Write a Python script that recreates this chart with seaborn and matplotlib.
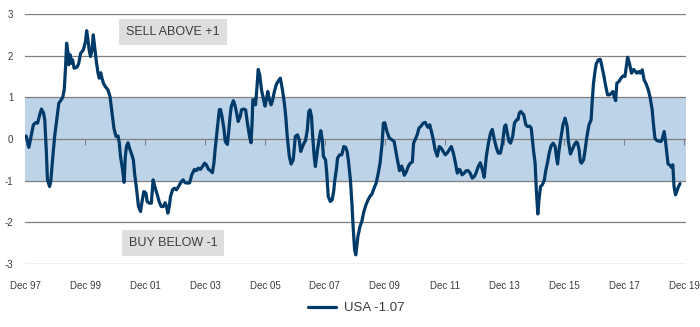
import matplotlib
matplotlib.use("Agg")
import matplotlib.pyplot as plt
import seaborn as sns
import pandas as pd

# ---- data (decimal year, standardised value) ----
years = [
    1997.94, 1998.03, 1998.09, 1998.18, 1998.25, 1998.32, 1998.38, 1998.45, 1998.52, 1998.56,
    1998.61, 1998.65, 1998.72, 1998.76, 1998.83, 1998.89, 1998.96, 1999.03, 1999.09, 1999.16,
    1999.21, 1999.25, 1999.29, 1999.34, 1999.36, 1999.41, 1999.45, 1999.49, 1999.54, 1999.63,
    1999.69, 1999.76, 1999.85, 1999.92, 1999.96, 2000.01, 2000.05, 2000.09, 2000.14, 2000.18,
    2000.25, 2000.29, 2000.34, 2000.38, 2000.43, 2000.47, 2000.52, 2000.58, 2000.67, 2000.74,
    2000.78, 2000.83, 2000.87, 2000.94, 2001.01, 2001.05, 2001.09, 2001.16, 2001.21, 2001.25,
    2001.29, 2001.34, 2001.41, 2001.47, 2001.52, 2001.56, 2001.63, 2001.69, 2001.76, 2001.81,
    2001.87, 2001.94, 2001.98, 2002.05, 2002.12, 2002.18, 2002.25, 2002.32, 2002.38, 2002.45,
    2002.52, 2002.58, 2002.63, 2002.67, 2002.72, 2002.76, 2002.83, 2002.89, 2002.96, 2003.03,
    2003.09, 2003.18, 2003.25, 2003.34,
    2003.40, 2003.47, 2003.56, 2003.62, 2003.69, 2003.76, 2003.83, 2003.90, 2003.96, 2004.03,
    2004.10, 2004.16, 2004.21, 2004.25, 2004.32, 2004.39, 2004.43, 2004.48, 2004.55, 2004.59,
    2004.66, 2004.70, 2004.75, 2004.79, 2004.86, 2004.91, 2004.97, 2005.02, 2005.09, 2005.13,
    2005.20, 2005.27, 2005.33, 2005.40, 2005.45, 2005.49, 2005.51, 2005.56, 2005.60, 2005.65,
    2005.69, 2005.74, 2005.80, 2005.87, 2005.92, 2005.96, 2006.01, 2006.05, 2006.12, 2006.16,
    2006.23, 2006.30, 2006.37, 2006.43, 2006.50, 2006.57, 2006.61, 2006.66, 2006.73, 2006.79,
    2006.86, 2006.93, 2007.00, 2007.06, 2007.11, 2007.15, 2007.22, 2007.27, 2007.33, 2007.38,
    2007.42, 2007.47, 2007.51, 2007.56, 2007.60, 2007.67, 2007.74, 2007.78, 2007.83, 2007.87,
    2007.94, 2007.98, 2008.03, 2008.10, 2008.16, 2008.21, 2008.25, 2008.30, 2008.34, 2008.41,
    2008.48, 2008.55, 2008.61, 2008.66, 2008.70, 2008.77, 2008.82, 2008.86, 2008.91, 2008.95,
    2009.02, 2009.09, 2009.15, 2009.22, 2009.29, 2009.36, 2009.42, 2009.49, 2009.56, 2009.63,
    2009.69, 2009.76, 2009.83, 2009.87, 2009.92, 2009.98, 2010.07, 2010.14, 2010.23, 2010.28,
    2010.34, 2010.41, 2010.48, 2010.52, 2010.57, 2010.64, 2010.70, 2010.77, 2010.84, 2010.88,
    2010.93, 2011.00, 2011.06, 2011.13, 2011.20, 2011.27, 2011.31, 2011.36, 2011.42, 2011.49,
    2011.54, 2011.60, 2011.67, 2011.74, 2011.80, 2011.87, 2011.94, 2012.01, 2012.07, 2012.14,
    2012.21, 2012.28, 2012.34, 2012.39, 2012.43, 2012.50, 2012.57, 2012.64, 2012.70, 2012.77,
    2012.84, 2012.91, 2012.97, 2013.04, 2013.11, 2013.18, 2013.24, 2013.31, 2013.38, 2013.45,
    2013.51, 2013.58, 2013.65, 2013.71, 2013.78, 2013.85, 2013.92, 2013.96, 2014.01, 2014.07,
    2014.12, 2014.19, 2014.25, 2014.32, 2014.37, 2014.41, 2014.46,
    2014.56, 2014.63, 2014.69, 2014.76, 2014.81, 2014.85, 2014.89, 2014.94, 2014.98, 2015.03,
    2015.07, 2015.12, 2015.18, 2015.25, 2015.29, 2015.36, 2015.41, 2015.47, 2015.54, 2015.61,
    2015.65, 2015.69, 2015.74, 2015.81, 2015.87, 2015.94, 2016.01, 2016.05, 2016.12, 2016.18,
    2016.25, 2016.32, 2016.36, 2016.41, 2016.45, 2016.49, 2016.56, 2016.61, 2016.67, 2016.74,
    2016.81, 2016.85, 2016.89, 2016.94, 2016.98, 2017.05, 2017.12, 2017.16, 2017.23, 2017.29,
    2017.36, 2017.43, 2017.49, 2017.54, 2017.58, 2017.63, 2017.67, 2017.74, 2017.81, 2017.87,
    2017.94, 2017.98, 2018.03, 2018.09, 2018.16, 2018.23, 2018.29, 2018.34, 2018.41, 2018.45,
    2018.52, 2018.58, 2018.65, 2018.72, 2018.78, 2018.85, 2018.89, 2018.94, 2019.01, 2019.07,
    2019.14, 2019.18, 2019.25, 2019.29, 2019.34, 2019.38, 2019.45, 2019.49, 2019.54, 2019.58,
    2019.63, 2019.67, 2019.72, 2019.78,
]
usa_values = [
    0.07, -0.20, 0.02, 0.34, 0.39, 0.38, 0.55, 0.72, 0.62, 0.46,
    -0.26, -0.98, -1.14, -1.02, -0.42, 0.06, 0.46, 0.86, 0.92, 1.00,
    1.18, 1.66, 2.30, 2.06, 1.78, 2.02, 1.82, 1.90, 1.70, 1.72,
    1.80, 2.06, 2.14, 2.34, 2.60, 2.34, 2.10, 1.98, 2.14, 2.50,
    2.06, 1.82, 1.58, 1.46, 1.59, 1.46, 1.34, 1.26, 1.18, 1.02,
    0.78, 0.46, 0.26, 0.06, 0.07, -0.10, -0.42, -0.74, -1.04, -0.42,
    -0.18, -0.09, -0.26, -0.38, -0.50, -0.82, -1.22, -1.62, -1.74, -1.50,
    -1.26, -1.30, -1.50, -1.54, -1.54, -0.98, -1.18, -1.34, -1.50, -1.62,
    -1.62, -1.53, -1.62, -1.78, -1.62, -1.38, -1.22, -1.18, -1.22, -1.14,
    -1.06, -0.98, -1.05, -1.06,
    -1.05, -0.86, -0.73, -0.76, -0.70, -0.73, -0.66, -0.58, -0.62, -0.73,
    -0.76, -0.81, -0.58, -0.26, 0.22, 0.70, 0.71, 0.54, 0.22, -0.06,
    -0.13, 0.14, 0.54, 0.78, 0.92, 0.82, 0.62, 0.42, 0.54, 0.70,
    0.72, 0.70, 0.38, 0.06, -0.09, 0.46, 0.94, 0.94, 0.82, 1.26,
    1.67, 1.54, 1.18, 0.94, 0.79, 0.94, 1.14, 0.98, 0.82, 0.90,
    1.14, 1.32, 1.40, 1.46, 1.18, 0.82, 0.54, 0.06, -0.42, -0.60,
    -0.50, 0.06, 0.10, -0.02, -0.30, -0.22, -0.10, -0.04, 0.22, 0.66,
    0.70, 0.54, 0.06, -0.42, -0.66, -0.26, 0.06, 0.20, -0.02, -0.42,
    -0.50, -0.82, -1.38, -1.50, -1.46, -1.26, -0.98, -0.74, -0.46, -0.38,
    -0.38, -0.18, -0.20, -0.30, -0.50, -0.98, -1.54, -2.10, -2.66, -2.78,
    -2.34, -2.10, -1.98, -1.74, -1.58, -1.46, -1.38, -1.32, -1.18, -1.06,
    -0.86, -0.58, -0.10, 0.38, 0.39, 0.20, 0.02, -0.01, -0.06, -0.26,
    -0.50, -0.76, -0.65, -0.73, -0.87, -0.78, -0.66, -0.58, -0.55, -0.10,
    -0.02, 0.10, 0.26, 0.31, 0.38, 0.40, 0.34, 0.28, 0.34, 0.14,
    -0.02, -0.26, -0.41, -0.18, -0.22, -0.30, -0.38, -0.33, -0.26, -0.18,
    -0.34, -0.58, -0.82, -0.73, -0.74, -0.86, -0.82, -0.76, -0.76, -0.82,
    -0.94, -0.90, -0.81, -0.66, -0.57, -0.74, -0.92, -0.42, -0.10, 0.14,
    0.23, -0.02, -0.22, -0.34, -0.34, -0.10, 0.30, 0.34, 0.14, -0.06,
    -0.10, 0.06, 0.38, 0.46, 0.47, 0.62, 0.66,
    0.58, 0.34, 0.30, 0.31, 0.26, -0.02, -0.30, -0.58, -1.22, -1.80,
    -1.46, -1.14, -1.10, -0.98, -0.78, -0.54, -0.34, -0.17, -0.10, -0.18,
    -0.42, -0.60, -0.26, 0.06, 0.34, 0.50, 0.30, -0.06, -0.36, -0.26,
    -0.14, -0.07, -0.10, -0.26, -0.54, -0.58, -0.50, -0.26, 0.06, 0.34,
    0.46, 0.94, 1.34, 1.62, 1.80, 1.90, 1.91, 1.78, 1.54, 1.30,
    1.06, 1.06, 1.10, 1.14, 1.02, 0.92, 1.34, 1.38, 1.46, 1.51,
    1.50, 1.70, 1.96, 1.82, 1.58, 1.67, 1.62, 1.58, 1.62, 1.58,
    1.66, 1.42, 1.32, 1.18, 1.00, 0.70, 0.38, 0.02, -0.04, -0.05,
    -0.06, -0.02, 0.18, -0.02, -0.34, -0.60, -0.63, -0.68, -0.62, -1.14,
    -1.34, -1.26, -1.16, -1.07,
]
series_label = "USA -1.07"
tick_years = [1997.917, 1999.917, 2001.917, 2003.917, 2005.917, 2007.917,
              2009.917, 2011.917, 2013.917, 2015.917, 2017.917, 2019.917]
tick_labels = ["Dec 97", "Dec 99", "Dec 01", "Dec 03", "Dec 05", "Dec 07",
               "Dec 09", "Dec 11", "Dec 13", "Dec 15", "Dec 17", "Dec 19"]
y_ticks = [-3, -2, -1, 0, 1, 2, 3]
sell_text = "SELL ABOVE +1"
buy_text = "BUY BELOW -1"

# ---- style ----
sns.set_theme(style="white")
plt.rcParams["font.family"] = ["Liberation Sans", "DejaVu Sans"]

LINE = "#003a68"
GRID = "#7f7f7f"
BAND = "#bcd3e8"
TEXT = "#3c3c3c"
BOX = "#dfdedd"

df = pd.DataFrame({"year": years, "value": usa_values})

fig = plt.figure(figsize=(7.0, 3.27), dpi=100)
ax = fig.add_axes([25 / 700, 1 - 264 / 327, 661 / 700, 250 / 327])

ax.axhspan(-1, 1, color=BAND, zorder=0, lw=0)
sns.lineplot(data=df, x="year", y="value", ax=ax, color=LINE, lw=2.3,
             label=series_label, zorder=3, legend=False)

ax.set_ylim(-3, 3)
ax.set_xlim(1997.90, 2019.98)
ax.set_yticks(y_ticks)
ax.set_yticklabels([str(v) for v in y_ticks])
ax.yaxis.grid(True, color=GRID, lw=0.9)
ax.xaxis.grid(False)
ax.set_axisbelow(True)
for s in ax.spines.values():
    s.set_visible(False)
ax.set_xlabel("")
ax.set_ylabel("")

ax.set_xticks(tick_years)
ax.set_xticklabels(tick_labels)
ax.tick_params(axis="x", length=0, pad=12.5, labelsize=7, labelcolor=TEXT)
ax.tick_params(axis="y", length=0, pad=8.5, labelsize=7, labelcolor=TEXT)

# small tick marks on the zero line
sec = ax.secondary_xaxis(0.5)
sec.set_alignment("bottom")
sec.set_xticks(tick_years)
sec.tick_params(axis="x", direction="out", length=4.5, width=0.8, color=GRID,
                labelbottom=False, labeltop=False)
for s in sec.spines.values():
    s.set_visible(False)

# annotation boxes
ax.text(2002.85, 2.57, sell_text, ha="center", va="center", fontsize=9,
        color=TEXT, zorder=4,
        bbox=dict(boxstyle="square,pad=0.55", fc=BOX, ec="none"))
ax.text(2002.85, -2.49, buy_text, ha="center", va="center", fontsize=9,
        color=TEXT, zorder=4,
        bbox=dict(boxstyle="square,pad=0.55", fc=BOX, ec="none"))

handles, labels = ax.get_legend_handles_labels()
from matplotlib.lines import Line2D
h = [Line2D([0], [0], color=LINE, lw=2.3)]
fig.legend(h, [series_label], loc="center", bbox_to_anchor=(356 / 700, 1 - 308 / 327),
           frameon=False, fontsize=9.5, handlelength=2.1, handletextpad=0.6,
           labelcolor=TEXT)

fig.savefig("out.png", dpi=100)
